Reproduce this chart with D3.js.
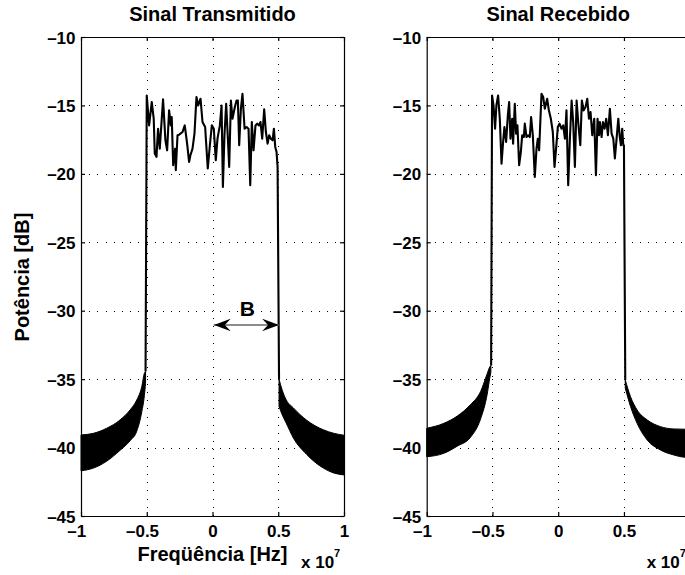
<!DOCTYPE html>
<html>
<head>
<meta charset="utf-8">
<script src="https://cdn.jsdelivr.net/npm/d3@7"></script>
<style>
  body { margin: 0; background: #fff; }
  text { font-family: "Liberation Sans", Arial, Helvetica, sans-serif; font-weight: bold; fill: #000; }
</style>
</head>
<body>
<svg id="chart" width="685" height="575"></svg>
<script>
// Axis ticks and labels (frequency in units of 10^7 Hz, power in dB)
const xTicks = [-1, -0.5, 0, 0.5, 1];
const xTickLabels = ["–1", "–0.5", "0", "0.5", "1"];
const yTicks = [-45, -40, -35, -30, -25, -20, -15, -10];
const yTickLabels = ["–45", "–40", "–35", "–30", "–25", "–20", "–15", "–10"];
const panelTitles = ["Sinal Transmitido", "Sinal Recebido"];

// Transmitted spectrum: in-band trace
const txFreq = [-0.509, -0.500, -0.482, -0.462, -0.447, -0.439, -0.426, -0.414, -0.401, -0.376, -0.358, -0.345,
  -0.330, -0.317, -0.310, -0.299, -0.284, -0.279, -0.266, -0.254, -0.244, -0.228, -0.211, -0.193, -0.178,
  -0.168, -0.152, -0.137, -0.122, -0.109, -0.091, -0.076, -0.056, -0.036, -0.020, -0.005, 0.010, 0.025,
  0.038, 0.056, 0.069, 0.079, 0.091, 0.104, 0.117, 0.127, 0.140, 0.152, 0.170, 0.183, 0.193, 0.203, 0.216,
  0.228, 0.244, 0.259, 0.274, 0.287, 0.299, 0.312, 0.327, 0.340, 0.353, 0.365, 0.378, 0.393, 0.406, 0.419,
  0.431, 0.444, 0.457, 0.467, 0.477, 0.487, 0.495, 0.506];
const txPower = [-34.45, -14.27, -16.46, -14.76, -15.97, -18.52, -18.76, -16.70, -18.16, -14.56, -17.55, -18.28,
  -15.36, -16.46, -15.85, -19.37, -18.16, -19.73, -17.18, -17.14, -17.06, -16.94, -16.46, -17.79, -19.13,
  -18.64, -18.16, -17.06, -14.39, -15.00, -14.51, -16.21, -16.58, -19.61, -17.91, -16.46, -16.70, -19.00,
  -17.43, -16.46, -15.00, -20.95, -17.18, -14.88, -17.43, -19.49, -14.64, -15.97, -15.12, -14.64, -14.64, -17.91, -15.24,
  -14.15, -16.70, -16.58, -16.70, -20.83, -16.21, -18.28, -16.46, -16.33, -16.46, -16.21, -17.43, -15.29, -16.94, -17.79,
  -17.18, -17.43, -17.55, -16.70, -18.03, -18.40, -19.49, -35.00];

// Transmitted spectrum: out-of-band ripple envelopes
const txLowFreq  = [-1.0, -0.906, -0.805, -0.703, -0.627, -0.576, -0.538, -0.518, -0.509];
const txLowUpper = [-39.08, -38.96, -38.59, -37.98, -37.25, -36.52, -35.55, -34.57, -34.45];
const txLowLower = [-41.70, -41.50, -41.00, -40.20, -39.50, -38.80, -37.40, -36.20, -35.30];
const txHighFreq  = [0.506, 0.530, 0.560, 0.615, 0.716, 0.843, 0.920, 1.0];
const txHighUpper = [-35.00, -35.80, -36.50, -37.10, -38.00, -38.70, -38.95, -39.10];
const txHighLower = [-37.00, -37.60, -38.20, -39.30, -40.50, -41.50, -41.85, -42.00];

// Received spectrum: in-band trace
const rxFreq = [-0.510, -0.503, -0.492, -0.480, -0.470, -0.457, -0.444, -0.431, -0.419, -0.409, -0.396, -0.383,
  -0.373, -0.363, -0.350, -0.343, -0.330, -0.320, -0.310, -0.297, -0.284, -0.274, -0.261, -0.254, -0.241,
  -0.228, -0.216, -0.206, -0.193, -0.178, -0.165, -0.155, -0.145, -0.127, -0.114, -0.102, -0.084, -0.071,
  -0.056, -0.041, -0.028, -0.015, -0.003, 0.010, 0.025, 0.038, 0.051, 0.063, 0.076, 0.089, 0.102, 0.114,
  0.127, 0.140, 0.152, 0.168, 0.180, 0.193, 0.208, 0.221, 0.234, 0.246, 0.259, 0.274, 0.287, 0.299, 0.310,
  0.317, 0.330, 0.340, 0.353, 0.365, 0.378, 0.393, 0.406, 0.419, 0.431, 0.444, 0.457, 0.467, 0.477, 0.487,
  0.495, 0.500, 0.510];
const rxPower = [-34.00, -14.27, -15.00, -16.70, -15.00, -14.27, -15.97, -19.25, -17.67, -16.58, -17.67, -15.73,
  -14.76, -17.43, -15.97, -17.79, -14.88, -17.06, -16.46, -19.37, -18.40, -17.18, -17.31, -16.33, -17.31,
  -17.18, -17.31, -15.85, -17.18, -20.22, -18.16, -17.43, -18.28, -14.15, -14.39, -15.24, -14.51, -15.36,
  -15.97, -16.94, -19.49, -18.03, -16.58, -16.33, -16.70, -16.46, -17.43, -15.36, -20.83, -17.43, -14.64, -16.21,
  -19.49, -14.64, -16.21, -17.91, -14.64, -15.36, -15.12, -14.51, -15.97, -15.49, -17.18, -15.97, -20.10, -15.97, -17.18,
  -16.21, -17.31, -16.21, -16.70, -15.97, -17.18, -15.24, -17.06, -17.43, -18.88, -17.43, -15.97, -17.18, -17.91, -16.70,
  -17.91, -17.91, -35.06];

// Received spectrum: out-of-band ripple envelopes
const rxLowFreq  = [-1.0, -0.870, -0.768, -0.667, -0.590, -0.540, -0.520, -0.512];
const rxLowUpper = [-38.59, -38.23, -37.70, -36.86, -35.90, -34.60, -34.10, -34.00];
const rxLowLower = [-40.67, -40.42, -39.90, -39.25, -37.90, -36.10, -34.90, -34.50];
const rxHighFreq  = [0.510, 0.550, 0.600, 0.677, 0.778, 0.879, 0.966, 1.0];
const rxHighUpper = [-35.06, -36.28, -37.25, -37.98, -38.47, -38.64, -38.66, -38.66];
const rxHighLower = [-35.65, -37.00, -38.23, -39.45, -40.18, -40.54, -40.71, -40.72];

const W = 685;
const svg = d3.select("#chart");
const plotTop = 37, plotBottom = 516;
const panels = [
  { left: 81, right: 344, title: panelTitles[0],
    freq: txFreq, power: txPower,
    bands: [[txLowFreq, txLowUpper, txLowLower], [txHighFreq, txHighUpper, txHighLower]] },
  { left: 426.7, right: 689.7, title: panelTitles[1],
    freq: rxFreq, power: rxPower,
    bands: [[rxLowFreq, rxLowUpper, rxLowLower], [rxHighFreq, rxHighUpper, rxHighLower]] }
];

// Minus sign hangs left of the tick so that the digits stay centred
function hangMinus(sel) {
  sel.each(function () {
    const t = d3.select(this);
    if (t.text().startsWith("–")) {
      const probe = svg.append("text").style("font-size", t.style("font-size")).text("–");
      const w = probe.node().getComputedTextLength();
      probe.remove();
      t.attr("dx", -w / 2);
    }
  });
}

panels.forEach((p) => {
  const x = d3.scaleLinear().domain([-1, 1]).range([p.left, p.right]);
  const y = d3.scaleLinear().domain([-45, -10]).range([plotBottom, plotTop]);
  const g = svg.append("g");

  // dotted grid
  const grid = g.append("g").attr("class", "grid");
  grid.append("g").attr("transform", `translate(0,${plotBottom})`)
    .call(d3.axisBottom(x).tickValues(xTicks.slice(1, -1)).tickSize(-(plotBottom - plotTop)).tickFormat(""))
    .call(s => s.select(".domain").remove());
  grid.append("g").attr("transform", `translate(${p.left},0)`)
    .call(d3.axisLeft(y).tickValues(yTicks.slice(1, -1)).tickSize(-(p.right - p.left)).tickFormat(""))
    .call(s => s.select(".domain").remove());
  grid.selectAll("line").attr("stroke", "#000").attr("stroke-width", 1)
    .attr("stroke-dasharray", "1,7.2").attr("shape-rendering", "crispEdges");

  // out-of-band ripple, drawn as the band between its envelopes
  p.bands.forEach(([f, up, lo]) => {
    const pts = f.map((d, i) => ({ f: d, up: up[i], lo: lo[i] }));
    g.append("path").datum(pts)
      .attr("d", d3.area().x(d => x(d.f)).y0(d => y(d.lo)).y1(d => y(d.up)).curve(d3.curveMonotoneX))
      .attr("fill", "#000").attr("stroke", "#000").attr("stroke-width", 1);
  });

  // in-band trace
  g.append("path").datum(p.freq.map((d, i) => [d, p.power[i]]))
    .attr("d", d3.line().x(d => x(d[0])).y(d => y(d[1])))
    .attr("fill", "none").attr("stroke", "#000").attr("stroke-width", 2.1)
    .attr("stroke-linejoin", "round");

  // axes box with inward ticks; labels beyond the page edge are left out
  const shown = xTicks.filter(v => x(v) + 6 <= W);
  const bx = g.append("g").attr("transform", `translate(0,${plotBottom})`)
    .call(d3.axisBottom(x).tickValues(xTicks).tickSizeInner(-4).tickSizeOuter(0).tickPadding(9)
      .tickFormat((d, i) => shown.includes(d) ? xTickLabels[i] : ""));
  const ly = g.append("g").attr("transform", `translate(${p.left},0)`)
    .call(d3.axisLeft(y).tickValues(yTicks).tickSizeInner(-4).tickSizeOuter(0).tickPadding(5.5)
      .tickFormat((d, i) => yTickLabels[i]));
  g.append("g").attr("transform", `translate(0,${plotTop})`)
    .call(d3.axisTop(x).tickValues(xTicks).tickSizeInner(-4).tickSizeOuter(0).tickFormat(""));
  g.append("g").attr("transform", `translate(${p.right},0)`)
    .call(d3.axisRight(y).tickValues(yTicks).tickSizeInner(-4).tickSizeOuter(0).tickFormat(""));
  g.selectAll(".domain, .tick line").filter(function () { return !this.closest(".grid"); })
    .attr("stroke", "#000").attr("stroke-width", 1.2);
  g.selectAll(".tick text").attr("fill", "#000")
    .style("font-family", '"Liberation Sans", Arial, sans-serif').style("font-weight", "bold")
    .style("font-size", "17px");
  bx.selectAll(".tick text").call(hangMinus);
  ly.selectAll(".tick text").attr("dy", "0.36em");

  // title
  svg.append("text").attr("x", (p.left + p.right) / 2).attr("y", 20.5)
    .attr("text-anchor", "middle").style("font-size", "20px").text(p.title);

  // exponent marker
  const ex = svg.append("text").attr("x", p.right - 43).attr("y", 568).style("font-size", "17px");
  ex.append("tspan").text("x 10");
  ex.append("tspan").attr("dy", -11).style("font-size", "11px").text("7");
});

// axis titles (left panel)
svg.append("text").attr("x", 212.5).attr("y", 561).attr("text-anchor", "middle")
  .style("font-size", "20px").text("Freqüência [Hz]");
svg.append("text").attr("transform", "translate(29,277) rotate(-90)").attr("text-anchor", "middle")
  .style("font-size", "20px").text("Potência [dB]");

// bandwidth marker B: double arrow from 0 to the band edge
{
  const x = d3.scaleLinear().domain([-1, 1]).range([81, 344]);
  const y = d3.scaleLinear().domain([-45, -10]).range([516, 37]);
  const defs = svg.append("defs");
  defs.append("marker").attr("id", "head").attr("viewBox", "0 0 17 12.6").attr("refX", 17).attr("refY", 6.3)
    .attr("markerWidth", 17).attr("markerHeight", 12.6).attr("markerUnits", "userSpaceOnUse")
    .attr("orient", "auto-start-reverse")
    .append("path").attr("d", "M0,0 L17,6.3 L0,12.6 L6,6.3 Z").attr("fill", "#000");
  const ay = y(-31.04);
  svg.append("line").attr("x1", x(0.01)).attr("x2", x(0.506)).attr("y1", ay).attr("y2", ay)
    .attr("stroke", "#666").attr("stroke-width", 1.5)
    .attr("marker-start", "url(#head)").attr("marker-end", "url(#head)");
  svg.append("text").attr("x", x(0.265)).attr("y", ay - 9).attr("text-anchor", "middle")
    .style("font-size", "21px").text("B");
}
</script>
</body>
</html>
